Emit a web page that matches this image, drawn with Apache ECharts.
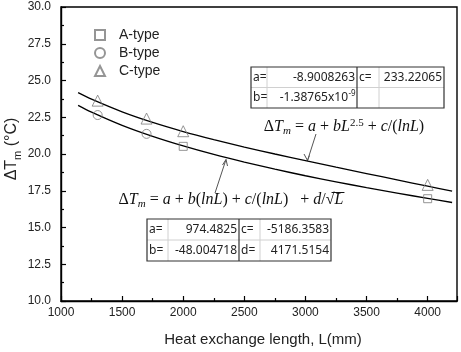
<!DOCTYPE html>
<html><head><meta charset="utf-8">
<script src="https://cdn.jsdelivr.net/npm/echarts@6/dist/echarts.min.js"></script>
<style>html,body{margin:0;padding:0;background:#fff}#c{width:461px;height:352px}</style>
</head><body><div id="c"></div>
<script>
// ---- data ----
const xTicks = [1000, 1500, 2000, 2500, 3000, 3500, 4000];
const yTicks = [10.0, 12.5, 15.0, 17.5, 20.0, 22.5, 25.0, 27.5, 30.0];
const aTypeL = [2000, 4000];
const aTypeT = [20.52, 16.96];
const bTypeL = [1300, 1700];
const bTypeT = [22.65, 21.37];
const cTypeL = [1300, 1700, 2000, 4000];
const cTypeT = [23.63, 22.41, 21.55, 17.90];
const fitL = [1140, 1250, 1500, 1750, 2000, 2250, 2500, 2750, 3000, 3250, 3500, 3750, 4000, 4200];
const fitUpper = [24.17, 23.73, 22.87, 22.15, 21.53, 20.98, 20.47, 20.00, 19.55, 19.10, 18.67, 18.24, 17.81, 17.47];
const fitLower = [23.31, 22.85, 21.95, 21.20, 20.55, 19.97, 19.45, 18.97, 18.52, 18.11, 17.71, 17.34, 16.98, 16.70];
const seriesNames = ['A-type', 'B-type', 'C-type'];
const tableUpper = [['a=', '-8.9008263', 'c=', '233.22065'], ['b=', '-1.38765x10', '', '']];
const tableLower = [['a=', '974.4825', 'c=', '-5186.3583'], ['b=', '-48.004718', 'd=', '4171.5154']];

const zip = (xs, ys) => xs.map((x, i) => [x, ys[i]]);
const SANS = 'Liberation Sans';
const SYM = '#7a7a7a';
const hollow = { color: 'rgba(0,0,0,0)', borderColor: SYM, borderWidth: 1 };

function table(colX, rowY, rows, valueInset) {
  const els = [];
  const [x0, x1, x2, x3, x4] = colX;
  const [y0, y1, y2] = rowY;
  els.push({ type: 'rect', shape: { x: x0, y: y0, width: x4 - x0, height: y2 - y0 }, style: { fill: '#fff', stroke: 'none' } });
  const ln = (a, b, c, d, col, w) => els.push({ type: 'line', shape: { x1: a, y1: b, x2: c, y2: d }, style: { stroke: col, lineWidth: w } });
  ln(x0, y1, x4, y1, '#d0d0d0', 1);
  ln(x1, y0, x1, y2, '#d0d0d0', 1);
  ln(x3, y0, x3, y2, '#d0d0d0', 1);
  ln(x2, y0, x2, y2, '#333', 1.2);
  els.push({ type: 'rect', shape: { x: x0, y: y0, width: x4 - x0, height: y2 - y0 }, style: { fill: 'none', stroke: '#333', lineWidth: 1.2 } });
  const ts = { fontFamily: 'Noto Sans', fontSize: 12, fill: '#222', verticalAlign: 'middle' };
  rows.forEach((r, i) => {
    const cy = (i === 0 ? (y0 + y1) / 2 : (y1 + y2) / 2);
    const inset = (valueInset && valueInset[i]) || 2;
    els.push({ type: 'text', x: x0 + 2, y: cy, style: Object.assign({ text: r[0], align: 'left' }, ts) });
    els.push({ type: 'text', x: x2 - inset, y: cy, style: Object.assign({ text: r[1], align: 'right' }, ts) });
    els.push({ type: 'text', x: x2 + 2, y: cy, style: Object.assign({ text: r[2], align: 'left' }, ts) });
    els.push({ type: 'text', x: x4 - 2, y: cy, style: Object.assign({ text: r[3], align: 'right' }, ts) });
  });
  return els;
}

const eqRich = {
  n: { fontFamily: 'Liberation Serif', fontSize: 16, fontStyle: 'normal', lineHeight: 18, fill: '#111' },
  i: { fontFamily: 'Liberation Serif', fontSize: 16, fontStyle: 'italic', lineHeight: 18, fill: '#111' },
  sub: { fontFamily: 'Liberation Serif', fontSize: 11, fontStyle: 'italic', lineHeight: 11, verticalAlign: 'top', padding: [8, 0, 0, 0], fill: '#111' },
  sup: { fontFamily: 'Liberation Serif', fontSize: 11, fontStyle: 'normal', lineHeight: 11, verticalAlign: 'top', fill: '#111' }
};
const lowerSegs = [['n', 'Δ'], ['i', 'T'], ['sub', 'm'], ['n', ' = '], ['i', 'a'], ['n', ' + '], ['i', 'b'], ['n', '('], ['i', 'lnL'], ['n', ') + '], ['i', 'c'], ['n', '/('], ['i', 'lnL'], ['n', ')   + '], ['i', 'd'], ['n', '/√'], ['i', 'L']];
const lowerText = lowerSegs.map(([k, t]) => '{' + k + '|' + t + '}').join('');
const lowerX = 231;

const chart = echarts.init(document.getElementById('c'), null, { renderer: 'canvas' });
const axisCommon = {
  axisLine: { onZero: false, lineStyle: { color: '#000', width: 1.4 } },
  axisTick: { inside: true, length: 5, lineStyle: { color: '#000', width: 1.2 } },
  minorTick: { show: true, splitNumber: 2, length: 3, lineStyle: { color: '#000', width: 1.2 } },
  splitLine: { show: false },
  axisLabel: { fontFamily: SANS, fontSize: 12, color: '#222' }
};

chart.setOption({
  animation: false,
  backgroundColor: '#fff',
  grid: { left: 61, right: 4, top: 7, bottom: 49, show: true, borderColor: '#000', borderWidth: 1.4, backgroundColor: 'transparent' },
  xAxis: Object.assign({}, axisCommon, {
    type: 'value', min: 1000, max: 4240, interval: 500,
    axisLabel: Object.assign({}, axisCommon.axisLabel, { margin: 6, showMaxLabel: false, formatter: v => xTicks.includes(v) ? String(v) : '' }),
    name: 'Heat exchange length, L(mm)', nameLocation: 'middle', nameGap: 31,
    nameTextStyle: { fontFamily: SANS, fontSize: 15, color: '#222', padding: [0, 0, 0, 8] }
  }),
  yAxis: Object.assign({}, axisCommon, {
    type: 'value', min: 10, max: 30, interval: 2.5,
    axisLabel: Object.assign({}, axisCommon.axisLabel, { margin: 10, formatter: v => v.toFixed(1) })
  }),
  legend: {
    data: seriesNames, orient: 'vertical', left: 89, top: 23, itemWidth: 10, itemHeight: 10, itemGap: 4,
    textStyle: { fontFamily: SANS, fontSize: 14, color: '#222', padding: [0, 0, 0, 9] }
  },
  series: [
    { name: 'fitUpper', type: 'line', data: zip(fitL, fitUpper), smooth: 0.3, showSymbol: false, lineStyle: { color: '#000', width: 1.3 }, z: 3 },
    { name: 'fitLower', type: 'line', data: zip(fitL, fitLower), smooth: 0.3, showSymbol: false, lineStyle: { color: '#000', width: 1.3 }, z: 3 },
    { name: seriesNames[0], type: 'scatter', symbol: 'rect', symbolSize: 8, data: zip(aTypeL, aTypeT), itemStyle: hollow, z: 4 },
    { name: seriesNames[1], type: 'scatter', symbol: 'circle', symbolSize: 9, data: zip(bTypeL, bTypeT), itemStyle: hollow, z: 4 },
    { name: seriesNames[2], type: 'scatter', symbol: 'triangle', symbolSize: 11, data: zip(cTypeL, cTypeT), itemStyle: hollow, z: 4 }
  ],
  graphic: [
    { type: 'text', x: 12, y: 149, rotation: Math.PI / 2, style: {
        text: '{a|ΔT}{s|m}{a| (°C)}', align: 'center', verticalAlign: 'middle',
        rich: { a: { fontFamily: SANS, fontSize: 16, lineHeight: 18, fill: '#222' },
                s: { fontFamily: SANS, fontSize: 11, lineHeight: 11, verticalAlign: 'top', padding: [9, 0, 0, 0], fill: '#222' } } } },
    ...table([251, 267, 357, 379, 444], [67, 87.5, 108], tableUpper, [2, 9]),
    { type: 'text', x: 348.5, y: 94, style: { text: '-9', fontFamily: 'Noto Sans', fontSize: 8, fill: '#222', align: 'left', verticalAlign: 'middle' } },
    ...table([147, 168, 239, 260, 331], [219, 240, 261], tableLower),
    { type: 'text', x: 344, y: 127, style: { text: '{n|Δ}{i|T}{sub|m}{n| = }{i|a}{n| + }{i|bL}{sup|2.5}{n| + }{i|c}{n|/(}{i|lnL}{n|)}', rich: eqRich, align: 'center', verticalAlign: 'middle' } },
    { type: 'text', x: lowerX, y: 200, style: { text: lowerText, rich: eqRich, align: 'center', verticalAlign: 'middle' } },
    { type: 'line', id: 'sqrtBar', shape: { x1: 0, y1: 0, x2: 0, y2: 0 }, style: { stroke: '#111', lineWidth: 1 } },
    { type: 'line', shape: { x1: 316, y1: 134, x2: 307.5, y2: 160.5 }, style: { stroke: '#555', lineWidth: 1 } },
    { type: 'polyline', shape: { points: [[304, 154], [307.5, 160.5], [309.5, 155.5]] }, style: { stroke: '#555', lineWidth: 1, fill: 'none' } },
    { type: 'line', shape: { x1: 215, y1: 193, x2: 226, y2: 159.5 }, style: { stroke: '#555', lineWidth: 1 } },
    { type: 'polyline', shape: { points: [[222.5, 165], [226, 159.5], [227.5, 166]] }, style: { stroke: '#555', lineWidth: 1, fill: 'none' } }
  ]
});
// overline of the square root, placed over the trailing "L" of the lower equation
(function () {
  const ctx = document.createElement('canvas').getContext('2d');
  const w = lowerSegs.map(([k, t]) => { const s = eqRich[k]; ctx.font = (s.fontStyle === 'italic' ? 'italic ' : '') + s.fontSize + 'px "' + s.fontFamily + '"'; return ctx.measureText(t).width; });
  const total = w.reduce((a, b) => a + b, 0);
  const right = lowerX + total / 2;
  const lw = w[w.length - 1];
  chart.setOption({ graphic: [{ id: 'sqrtBar', shape: { x1: right - lw - 3, y1: 192.5, x2: right + 1, y2: 192.5 } }] });
})();
</script></body></html>
